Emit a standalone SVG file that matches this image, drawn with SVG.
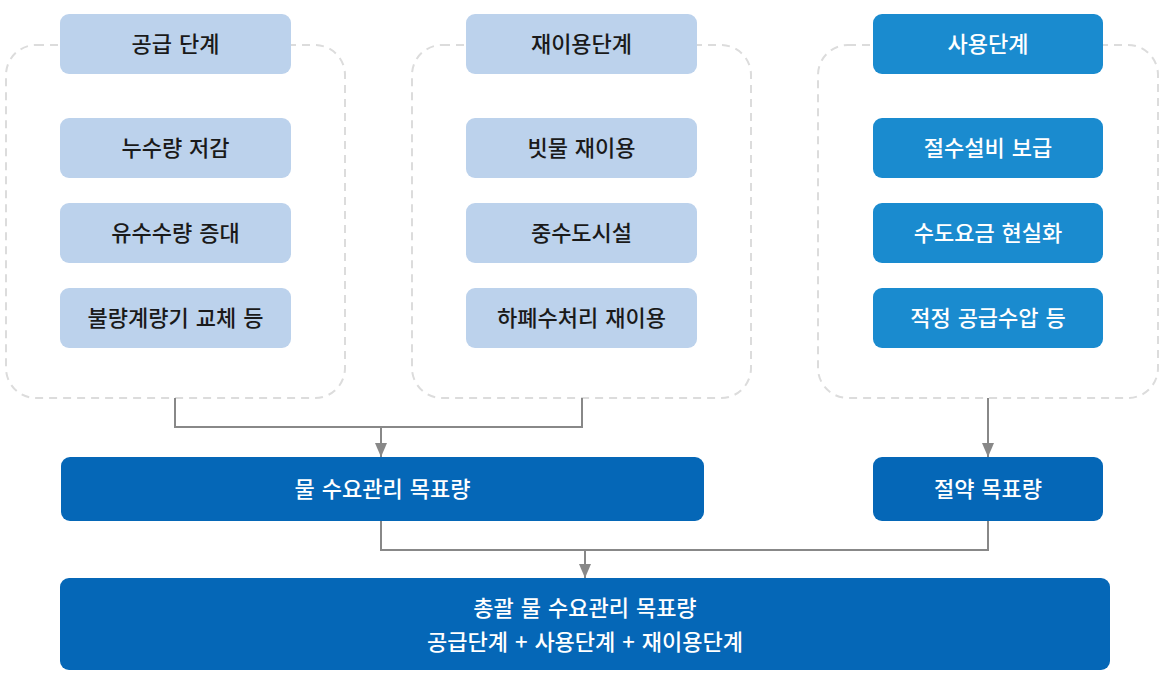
<svg xmlns="http://www.w3.org/2000/svg" width="1164" height="691" viewBox="0 0 1164 691">
<style>
.panel{fill:none;stroke:#dcdcdc;stroke-width:2;stroke-dasharray:8 6}
.light{fill:#bcd2ec}
.mid{fill:#1a8bcf}
.dark{fill:#0567b7}
text{font-family:"Noto Sans CJK KR","Noto Sans",sans-serif;font-size:22px;font-weight:500;text-anchor:middle;word-spacing:2px}
.tl{fill:#1a1a1a}
.tw{fill:#ffffff}
.conn{fill:none;stroke:#888888;stroke-width:2}
</style>
<defs>
<marker id="arr" viewBox="0 0 14 12" refX="14" refY="6" markerWidth="14" markerHeight="12" markerUnits="userSpaceOnUse" orient="auto">
<path d="M0,0 L14,6 L0,12 Z" fill="#888888"/>
</marker>
</defs>
<rect width="1164" height="691" fill="#ffffff"/>
<g id="panels">
<rect class="panel" x="6" y="45" width="339" height="353" rx="30"/>
<rect class="panel" x="412" y="45" width="339" height="353" rx="30"/>
<rect class="panel" x="818" y="45" width="340" height="353" rx="30"/>
</g>
<g id="connectors">
<path class="conn" d="M175,398 V427 H582 V398"/>
<path class="conn" d="M381,427 V457" marker-end="url(#arr)"/>
<path class="conn" d="M988,398 V457" marker-end="url(#arr)"/>
<path class="conn" d="M381,521 V550 H988 V521"/>
<path class="conn" d="M585,550 V578" marker-end="url(#arr)"/>
</g>
<g id="supply-header"><rect class="light" x="60" y="14" width="231" height="60" rx="9"/><text class="tl" x="175.5" y="52">공급 단계</text></g>
<g id="supply-1"><rect class="light" x="60" y="118" width="231" height="60" rx="9"/><text class="tl" x="175.5" y="156">누수량 저감</text></g>
<g id="supply-2"><rect class="light" x="60" y="203" width="231" height="60" rx="9"/><text class="tl" x="175.5" y="241">유수수량 증대</text></g>
<g id="supply-3"><rect class="light" x="60" y="288" width="231" height="60" rx="9"/><text class="tl" x="175.5" y="326">불량계량기 교체 등</text></g>
<g id="reuse-header"><rect class="light" x="466" y="14" width="231" height="60" rx="9"/><text class="tl" x="581.5" y="52">재이용단계</text></g>
<g id="reuse-1"><rect class="light" x="466" y="118" width="231" height="60" rx="9"/><text class="tl" x="581.5" y="156">빗물 재이용</text></g>
<g id="reuse-2"><rect class="light" x="466" y="203" width="231" height="60" rx="9"/><text class="tl" x="581.5" y="241">중수도시설</text></g>
<g id="reuse-3"><rect class="light" x="466" y="288" width="231" height="60" rx="9"/><text class="tl" x="581.5" y="326">하폐수처리 재이용</text></g>
<g id="use-header"><rect class="mid" x="873" y="14" width="230" height="60" rx="9"/><text class="tw" x="988" y="52">사용단계</text></g>
<g id="use-1"><rect class="mid" x="873" y="118" width="230" height="60" rx="9"/><text class="tw" x="988" y="156">절수설비 보급</text></g>
<g id="use-2"><rect class="mid" x="873" y="203" width="230" height="60" rx="9"/><text class="tw" x="988" y="241">수도요금 현실화</text></g>
<g id="use-3"><rect class="mid" x="873" y="288" width="230" height="60" rx="9"/><text class="tw" x="988" y="326">적정 공급수압 등</text></g>
<g id="demand-target"><rect class="dark" x="61" y="457" width="643" height="64" rx="9"/><text class="tw" x="382.5" y="497">물 수요관리 목표량</text></g>
<g id="saving-target"><rect class="dark" x="873" y="457" width="230" height="64" rx="9"/><text class="tw" x="988" y="497">절약 목표량</text></g>
<g id="total-target"><rect class="dark" x="60" y="578" width="1050" height="92" rx="9"/><text class="tw" x="585" y="616">총괄 물 수요관리 목표량</text><text class="tw" x="585" y="650">공급단계 + 사용단계 + 재이용단계</text></g>
</svg>
